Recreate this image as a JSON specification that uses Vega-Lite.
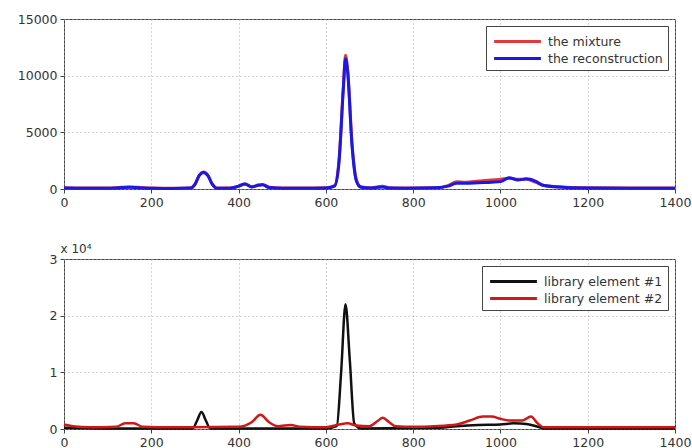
{
  "$schema": "https://vega.github.io/schema/vega-lite/v6.json",
  "background": "white",
  "padding": {"left": 16, "top": 12, "right": 0, "bottom": 2},
  "spacing": 32,
  "resolve": {"scale": {"color": "independent"}, "legend": {"color": "independent"}},
  "config": {
    "font": "DejaVu Sans",
    "view": {"stroke": "#444", "strokeWidth": 1},
    "axis": {
      "labelFont": "DejaVu Sans", "labelFontSize": 12.5, "labelColor": "#333",
      "grid": true, "gridDash": [1, 3], "gridColor": "#aaa", "labelFlush": false,
      "domain": false, "tickColor": "#444", "tickSize": 4, "labelPadding": 3, "format": "d"
    },
    "legend": {"labelFont": "DejaVu Sans", "labelFontSize": 12.5, "labelColor": "#333"}
  },
  "vconcat": [
    {
      "width": 611, "height": 170,
      "data": {"values": [
        {"x":0,"v":100,"s":"the mixture"},{"x":50,"v":80,"s":"the mixture"},{"x":100,"v":80,"s":"the mixture"},{"x":130,"v":150,"s":"the mixture"},{"x":150,"v":180,"s":"the mixture"},{"x":170,"v":150,"s":"the mixture"},{"x":200,"v":80,"s":"the mixture"},{"x":250,"v":60,"s":"the mixture"},{"x":290,"v":80,"s":"the mixture"},{"x":300,"v":400,"s":"the mixture"},{"x":310,"v":1200,"s":"the mixture"},{"x":320,"v":1500,"s":"the mixture"},{"x":330,"v":1200,"s":"the mixture"},{"x":340,"v":400,"s":"the mixture"},{"x":350,"v":80,"s":"the mixture"},{"x":380,"v":80,"s":"the mixture"},{"x":400,"v":250,"s":"the mixture"},{"x":415,"v":450,"s":"the mixture"},{"x":430,"v":200,"s":"the mixture"},{"x":445,"v":350,"s":"the mixture"},{"x":455,"v":400,"s":"the mixture"},{"x":470,"v":150,"s":"the mixture"},{"x":500,"v":80,"s":"the mixture"},{"x":550,"v":80,"s":"the mixture"},{"x":600,"v":100,"s":"the mixture"},{"x":620,"v":300,"s":"the mixture"},{"x":630,"v":2500,"s":"the mixture"},{"x":640,"v":9000,"s":"the mixture"},{"x":645,"v":11800,"s":"the mixture"},{"x":650,"v":10500,"s":"the mixture"},{"x":660,"v":4000,"s":"the mixture"},{"x":670,"v":800,"s":"the mixture"},{"x":680,"v":200,"s":"the mixture"},{"x":700,"v":100,"s":"the mixture"},{"x":720,"v":200,"s":"the mixture"},{"x":730,"v":250,"s":"the mixture"},{"x":745,"v":100,"s":"the mixture"},{"x":780,"v":80,"s":"the mixture"},{"x":850,"v":100,"s":"the mixture"},{"x":880,"v":300,"s":"the mixture"},{"x":900,"v":650,"s":"the mixture"},{"x":920,"v":600,"s":"the mixture"},{"x":950,"v":700,"s":"the mixture"},{"x":980,"v":800,"s":"the mixture"},{"x":1000,"v":850,"s":"the mixture"},{"x":1020,"v":950,"s":"the mixture"},{"x":1040,"v":850,"s":"the mixture"},{"x":1060,"v":850,"s":"the mixture"},{"x":1080,"v":600,"s":"the mixture"},{"x":1100,"v":300,"s":"the mixture"},{"x":1150,"v":150,"s":"the mixture"},{"x":1200,"v":100,"s":"the mixture"},{"x":1300,"v":80,"s":"the mixture"},{"x":1400,"v":80,"s":"the mixture"},
        {"x":0,"v":80,"s":"the reconstruction"},{"x":50,"v":60,"s":"the reconstruction"},{"x":100,"v":60,"s":"the reconstruction"},{"x":130,"v":120,"s":"the reconstruction"},{"x":150,"v":150,"s":"the reconstruction"},{"x":170,"v":120,"s":"the reconstruction"},{"x":200,"v":60,"s":"the reconstruction"},{"x":250,"v":50,"s":"the reconstruction"},{"x":290,"v":80,"s":"the reconstruction"},{"x":300,"v":400,"s":"the reconstruction"},{"x":310,"v":1200,"s":"the reconstruction"},{"x":320,"v":1450,"s":"the reconstruction"},{"x":330,"v":1150,"s":"the reconstruction"},{"x":340,"v":400,"s":"the reconstruction"},{"x":350,"v":70,"s":"the reconstruction"},{"x":380,"v":70,"s":"the reconstruction"},{"x":400,"v":250,"s":"the reconstruction"},{"x":415,"v":450,"s":"the reconstruction"},{"x":430,"v":180,"s":"the reconstruction"},{"x":445,"v":330,"s":"the reconstruction"},{"x":455,"v":380,"s":"the reconstruction"},{"x":470,"v":130,"s":"the reconstruction"},{"x":500,"v":70,"s":"the reconstruction"},{"x":550,"v":70,"s":"the reconstruction"},{"x":600,"v":90,"s":"the reconstruction"},{"x":620,"v":250,"s":"the reconstruction"},{"x":630,"v":2300,"s":"the reconstruction"},{"x":640,"v":8800,"s":"the reconstruction"},{"x":645,"v":11500,"s":"the reconstruction"},{"x":650,"v":10300,"s":"the reconstruction"},{"x":660,"v":3800,"s":"the reconstruction"},{"x":670,"v":700,"s":"the reconstruction"},{"x":680,"v":150,"s":"the reconstruction"},{"x":700,"v":80,"s":"the reconstruction"},{"x":720,"v":150,"s":"the reconstruction"},{"x":730,"v":180,"s":"the reconstruction"},{"x":745,"v":80,"s":"the reconstruction"},{"x":780,"v":70,"s":"the reconstruction"},{"x":850,"v":100,"s":"the reconstruction"},{"x":880,"v":250,"s":"the reconstruction"},{"x":900,"v":500,"s":"the reconstruction"},{"x":920,"v":500,"s":"the reconstruction"},{"x":950,"v":550,"s":"the reconstruction"},{"x":980,"v":600,"s":"the reconstruction"},{"x":1000,"v":650,"s":"the reconstruction"},{"x":1020,"v":1000,"s":"the reconstruction"},{"x":1040,"v":800,"s":"the reconstruction"},{"x":1060,"v":900,"s":"the reconstruction"},{"x":1080,"v":700,"s":"the reconstruction"},{"x":1100,"v":300,"s":"the reconstruction"},{"x":1150,"v":130,"s":"the reconstruction"},{"x":1200,"v":90,"s":"the reconstruction"},{"x":1300,"v":70,"s":"the reconstruction"},{"x":1400,"v":70,"s":"the reconstruction"}
      ]},
      "mark": {"type": "line", "strokeWidth": 3, "interpolate": "monotone"},
      "encoding": {
        "x": {"field": "x", "type": "quantitative", "scale": {"domain": [0, 1400], "nice": false}, "axis": {"title": null, "values": [0,200,400,600,800,1000,1200,1400]}},
        "y": {"field": "v", "type": "quantitative", "scale": {"domain": [0, 15000], "nice": false}, "axis": {"title": null, "values": [0,5000,10000,15000]}},
        "color": {"field": "s", "type": "nominal", "scale": {"domain": ["the mixture", "the reconstruction"], "range": ["#e03a3a", "#1818e8"]},
          "legend": {"title": null, "orient": "top-right", "offset": 7, "symbolType": "M-2.6,0H2.6", "symbolSize": 324, "symbolStrokeWidth": 3, "symbolOffset": 16, "labelOffset": 20, "strokeColor": "#444", "fillColor": "white", "padding": 5, "rowPadding": 0}}
      }
    },
    {
      "width": 611, "height": 170,
      "data": {"values": [
        {"x":0,"v":200,"s":"library element #1"},{"x":100,"v":100,"s":"library element #1"},{"x":295,"v":100,"s":"library element #1"},{"x":305,"v":1500,"s":"library element #1"},{"x":315,"v":3000,"s":"library element #1"},{"x":325,"v":1500,"s":"library element #1"},{"x":335,"v":100,"s":"library element #1"},{"x":600,"v":100,"s":"library element #1"},{"x":625,"v":500,"s":"library element #1"},{"x":635,"v":10000,"s":"library element #1"},{"x":645,"v":22000,"s":"library element #1"},{"x":655,"v":12000,"s":"library element #1"},{"x":665,"v":1000,"s":"library element #1"},{"x":680,"v":100,"s":"library element #1"},{"x":850,"v":200,"s":"library element #1"},{"x":900,"v":500,"s":"library element #1"},{"x":950,"v":700,"s":"library element #1"},{"x":1000,"v":800,"s":"library element #1"},{"x":1030,"v":1000,"s":"library element #1"},{"x":1060,"v":900,"s":"library element #1"},{"x":1090,"v":300,"s":"library element #1"},{"x":1100,"v":100,"s":"library element #1"},{"x":1400,"v":100,"s":"library element #1"},
        {"x":0,"v":800,"s":"library element #2"},{"x":20,"v":500,"s":"library element #2"},{"x":60,"v":300,"s":"library element #2"},{"x":120,"v":400,"s":"library element #2"},{"x":140,"v":1000,"s":"library element #2"},{"x":160,"v":1000,"s":"library element #2"},{"x":180,"v":400,"s":"library element #2"},{"x":250,"v":300,"s":"library element #2"},{"x":400,"v":400,"s":"library element #2"},{"x":430,"v":1200,"s":"library element #2"},{"x":450,"v":2500,"s":"library element #2"},{"x":470,"v":1200,"s":"library element #2"},{"x":490,"v":500,"s":"library element #2"},{"x":520,"v":700,"s":"library element #2"},{"x":540,"v":400,"s":"library element #2"},{"x":600,"v":300,"s":"library element #2"},{"x":630,"v":800,"s":"library element #2"},{"x":650,"v":1000,"s":"library element #2"},{"x":670,"v":600,"s":"library element #2"},{"x":700,"v":500,"s":"library element #2"},{"x":720,"v":1500,"s":"library element #2"},{"x":730,"v":2000,"s":"library element #2"},{"x":745,"v":1200,"s":"library element #2"},{"x":760,"v":500,"s":"library element #2"},{"x":800,"v":400,"s":"library element #2"},{"x":850,"v":500,"s":"library element #2"},{"x":900,"v":800,"s":"library element #2"},{"x":930,"v":1500,"s":"library element #2"},{"x":960,"v":2200,"s":"library element #2"},{"x":980,"v":2200,"s":"library element #2"},{"x":1000,"v":1800,"s":"library element #2"},{"x":1020,"v":1500,"s":"library element #2"},{"x":1050,"v":1500,"s":"library element #2"},{"x":1070,"v":2200,"s":"library element #2"},{"x":1085,"v":1000,"s":"library element #2"},{"x":1100,"v":300,"s":"library element #2"},{"x":1400,"v":300,"s":"library element #2"}
      ]},
      "mark": {"type": "line", "strokeWidth": 2.5, "interpolate": "monotone"},
      "encoding": {
        "x": {"field": "x", "type": "quantitative", "scale": {"domain": [0, 1400], "nice": false}, "axis": {"title": null, "values": [0,200,400,600,800,1000,1200,1400]}},
        "y": {"field": "v", "type": "quantitative", "scale": {"domain": [0, 30000], "nice": false},
          "axis": {"values": [0,10000,20000,30000], "labelExpr": "format(datum.value / 10000, 'd')", "title": "x 10⁴", "titleAngle": 0, "titleAlign": "left", "titleBaseline": "bottom", "titleX": -4, "titleY": -4, "titleFontSize": 12, "titleFontWeight": "normal", "titleColor": "#333"}},
        "color": {"field": "s", "type": "nominal", "scale": {"domain": ["library element #1", "library element #2"], "range": ["#111111", "#d01818"]},
          "legend": {"title": null, "orient": "top-right", "offset": 7, "symbolType": "M-2.6,0H2.6", "symbolSize": 324, "symbolStrokeWidth": 3, "symbolOffset": 16, "labelOffset": 20, "strokeColor": "#444", "fillColor": "white", "padding": 5, "rowPadding": 0}}
      }
    }
  ]
}
